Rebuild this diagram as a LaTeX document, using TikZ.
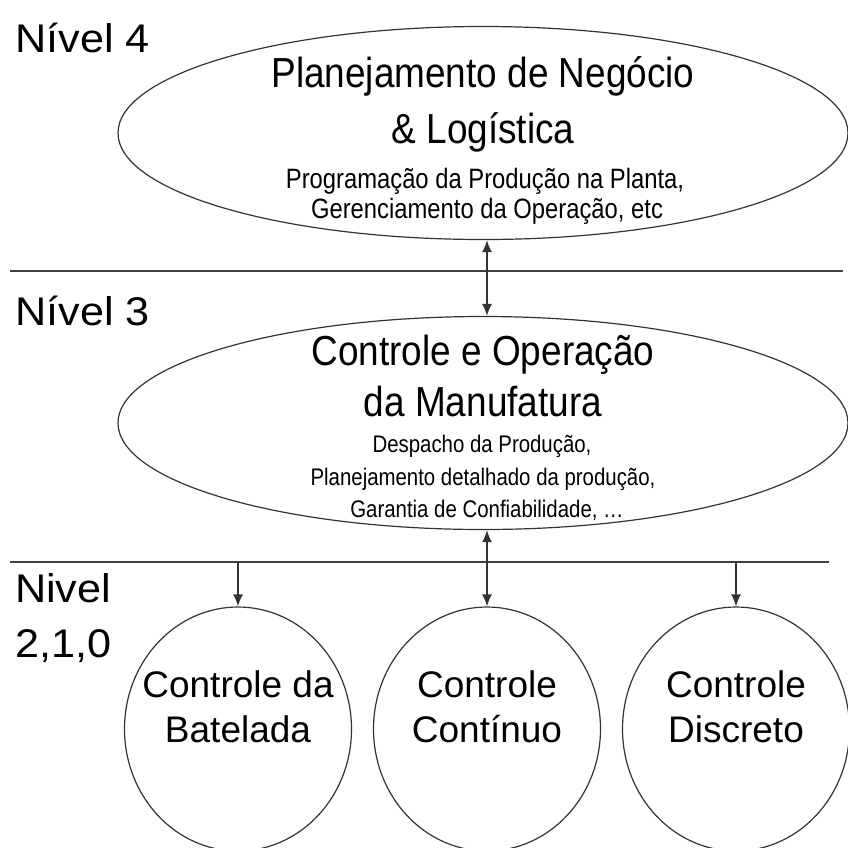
\documentclass[tikz,border=0pt]{standalone}
\usepackage{fontspec}
\setmainfont{Liberation Sans}
\newfontfamily\bignarrow[FakeStretch=0.88]{Liberation Sans}
\newfontfamily\smallnarrow[FakeStretch=0.85]{Liberation Sans}
\newfontfamily\levelwide[FakeStretch=1.08]{Liberation Sans}
\usetikzlibrary{shapes}
\usetikzlibrary{positioning}
\usetikzlibrary{arrows.meta}
\tikzset{
    Oval/.style = {ellipse, draw=black!80, line width=1.2pt, inner sep=0,
        minimum width=730pt, minimum height=213pt},
    Round/.style = {ellipse, draw=black!80, line width=1.2pt, inner sep=0,
        minimum width=227pt, minimum height=244pt}
}
\tikzset{
    Edge/.style = {draw=black!80, line width=1.6pt, >={Latex[length=12pt,width=10pt]}},
    Bar/.style = {draw=black!75, line width=1.6pt}
}
\tikzset{
    Level/.style = {anchor=base west, inner sep=0, font=\levelwide\fontsize{40}{48}\selectfont},
    Title/.style = {anchor=base, inner sep=0, font=\bignarrow\fontsize{42}{50}\selectfont},
    Sub/.style = {anchor=base, inner sep=0, font=\smallnarrow\fontsize{28}{32}\selectfont},
    SubS/.style = {anchor=base, inner sep=0, font=\smallnarrow\fontsize{24}{28}\selectfont},
    Ctl/.style = {anchor=base, inner sep=0, font=\fontsize{37}{44}\selectfont}
}

\begin{document}
\begin{tikzpicture}[x=1pt, y=-1pt]
\useasboundingbox (0,0) rectangle (848,847);

% levels
\node[Level] (lv4) at (15,52) {Nível 4};
\node[Level] (lv3) at (15,325) {Nível 3};
\node[Level] (lv2a) at (15,602) {Nivel};
\node[Level] (lv2b) at (15,657) {2,1,0};

% separators
\draw[Bar] (10,271) -- (843,271);
\draw[Bar] (10,562) -- (829,562);

% level 4
\node[Oval] (plan) at (483,133) {};
\node[Title] (plan1) at (483,87) {Planejamento de Negócio};
\node[Title] (plan2) at (483,143) {\& Logística};
\node[Sub] (plan3) at (485,188) {Programação da Produção na Planta,};
\node[Sub] (plan4) at (487,218) {Gerenciamento da Operação, etc};

% level 3
\node[Oval] (manu) at (483,423) {};
\node[Title] (manu1) at (483,365) {Controle e Operação};
\node[Title] (manu2) at (483,416) {da Manufatura};
\node[SubS] (manu3) at (482,452) {Despacho da Produção,};
\node[SubS] (manu4) at (483,485) {Planejamento detalhado da produção,};
\node[SubS] (manu5) at (487,517) {Garantia de Confiabilidade, \dots};

% level 2,1,0
\node[Round] (batch) at (238,729) {};
\node[Round] (cont) at (487,729) {};
\node[Round] (disc) at (736,729) {};
\node[Ctl] (batch1) at (238,697) {Controle da};
\node[Ctl] (batch2) at (238,742) {Batelada};
\node[Ctl] (cont1) at (487,697) {Controle};
\node[Ctl] (cont2) at (487,742) {Contínuo};
\node[Ctl] (disc1) at (736,697) {Controle};
\node[Ctl] (disc2) at (736,742) {Discreto};

\coordinate (busl) at (238,562);
\coordinate (busr) at (736,562);

\draw[Edge,<->] ([xshift=4pt]plan.south) -- ([xshift=4pt]manu.north);
\draw[Edge,<->] ([xshift=4pt]manu.south) -- (cont.north);
\draw[Edge,->] (busl) -- (batch.north);
\draw[Edge,->] (busr) -- (disc.north);
\end{tikzpicture}
\end{document}
